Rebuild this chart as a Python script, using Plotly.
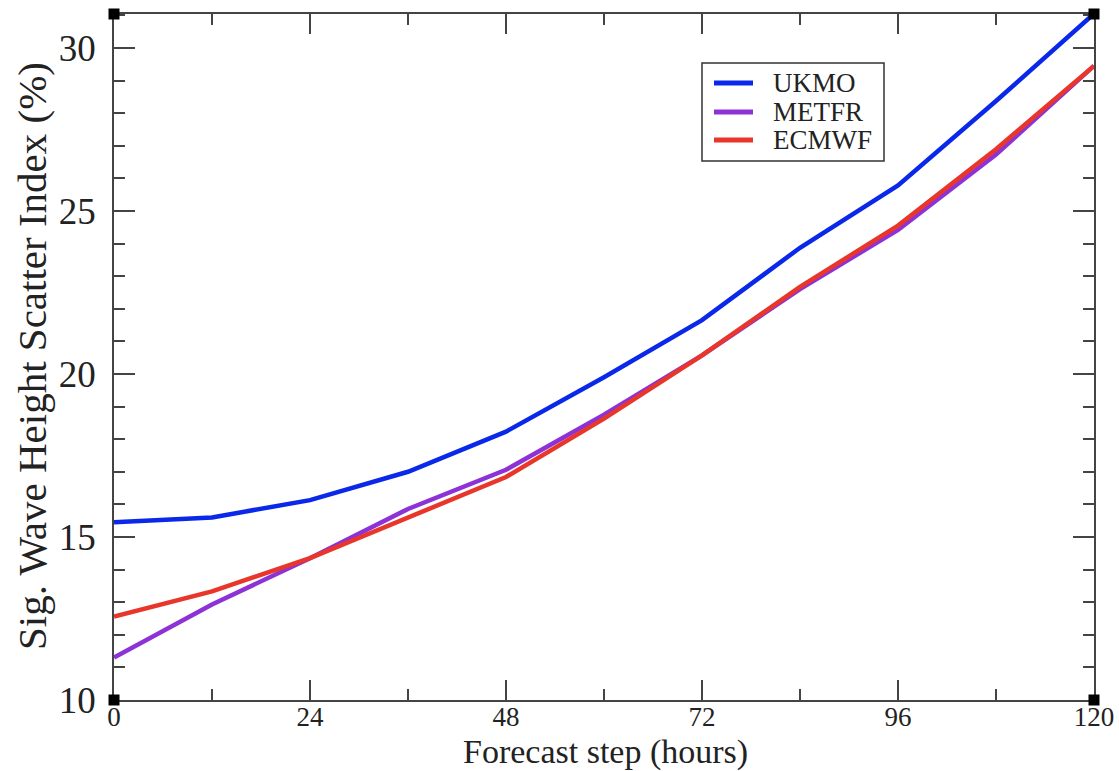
import plotly.graph_objects as go

steps = [0, 12, 24, 36, 48, 60, 72, 84, 96, 108, 120]
ukmo = [15.45, 15.6, 16.13, 17.0, 18.23, 19.9, 21.65, 23.87, 25.78, 28.37, 31.05]
metfr = [11.3, 12.93, 14.35, 15.86, 17.06, 18.75, 20.57, 22.6, 24.42, 26.73, 29.45]
ecmwf = [12.56, 13.33, 14.35, 15.6, 16.84, 18.63, 20.57, 22.67, 24.55, 26.89, 29.45]

series = [("UKMO", ukmo, "#0a28ea"), ("METFR", metfr, "#8c32d6"), ("ECMWF", ecmwf, "#e8372a")]

W, H = 1119, 771
L, R, T, B = 114, 25, 14, 71
pw, ph = W - L - R, H - T - B


def px(x):
    return (x - L) / pw


def py(y):
    return (H - B - y) / ph


fig = go.Figure()
for name, vals, col in series:
    fig.add_trace(go.Scatter(x=steps, y=vals, mode="lines", name=name,
                             line=dict(color=col, width=4.5), showlegend=False))

serif = "Liberation Serif"
axis_common = dict(showgrid=False, zeroline=False, showline=True, linecolor="#444",
                   linewidth=1.5, mirror="allticks", ticks="inside", tickcolor="#444",
                   tickwidth=1.5, automargin=False)

fig.update_xaxes(range=[0, 120], tickvals=[0, 24, 48, 72, 96, 120], ticklen=20,
                 minor=dict(dtick=12, tick0=0, ticks="inside", ticklen=11, tickcolor="#444", tickwidth=1.5),
                 tickfont=dict(family=serif, size=27, color="#222"),
                 ticklabelstandoff=-8,
                 **axis_common)
fig.update_yaxes(range=[10, 31.04], tickvals=[10, 15, 20, 25, 30], ticklen=21,
                 minor=dict(dtick=1, tick0=10, ticks="inside", ticklen=11, tickcolor="#444", tickwidth=1.5),
                 tickfont=dict(family=serif, size=37, color="#222"),
                 ticklabelstandoff=9,
                 **axis_common)

# axis titles
fig.add_annotation(xref="paper", yref="paper", x=px(605), y=py(752), text="Forecast step (hours)",
                   showarrow=False, xanchor="center", yanchor="middle",
                   font=dict(family=serif, size=34, color="#222"))
fig.add_annotation(xref="paper", yref="paper", x=px(32), y=py(356), text="Sig. Wave Height Scatter Index (%)",
                   showarrow=False, xanchor="center", yanchor="middle", textangle=-90,
                   font=dict(family=serif, size=41, color="#222"))

for xa, ya in [(0, 0), (0, 1), (1, 0), (1, 1)]:
    fig.add_shape(type="rect", xref="paper", yref="paper", xsizemode="pixel", ysizemode="pixel",
                  xanchor=xa, yanchor=ya, x0=-5.5, x1=5.5, y0=-5.5, y1=5.5,
                  fillcolor="black", line=dict(width=0))

# manual legend (box, line samples, labels)
fig.add_shape(type="rect", xref="paper", yref="paper", x0=px(702), x1=px(884), y0=py(161), y1=py(63),
              fillcolor="white", line=dict(color="#333", width=1.5), layer="above")
row_y = [83, 112, 140]
for (name, vals, col), ry in zip(series, row_y):
    fig.add_shape(type="line", xref="paper", yref="paper", x0=px(714), x1=px(753), y0=py(ry), y1=py(ry),
                  line=dict(color=col, width=5), layer="above")
    fig.add_annotation(xref="paper", yref="paper", x=px(771), y=py(ry), text=name, showarrow=False,
                       xanchor="left", yanchor="middle",
                       font=dict(family=serif, size=27, color="#222"))

fig.update_layout(
    width=W, height=H,
    margin=dict(l=L, r=R, t=T, b=B),
    paper_bgcolor="white", plot_bgcolor="white",
    showlegend=False,
)

fig.write_html("out.html")
